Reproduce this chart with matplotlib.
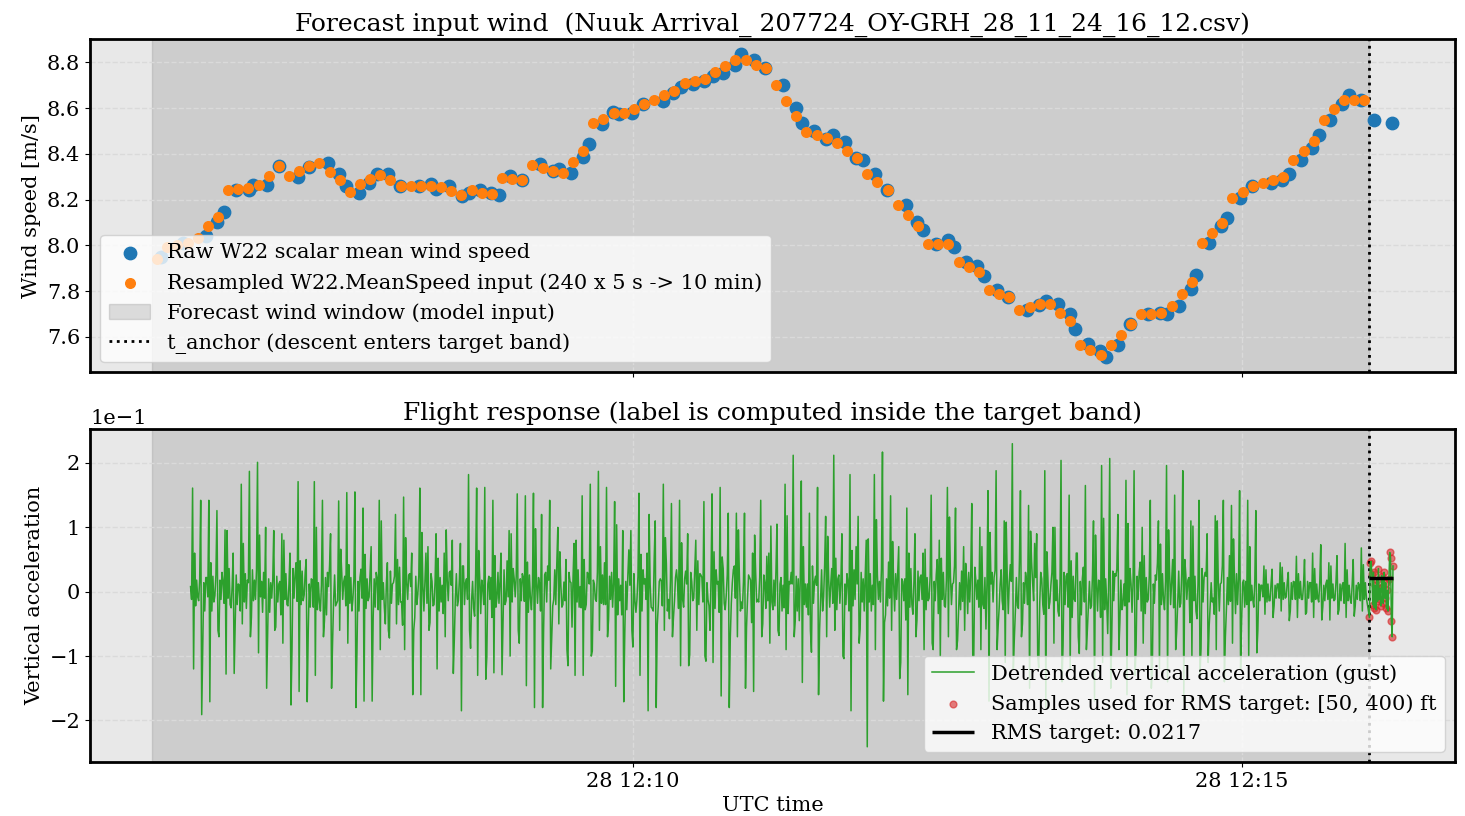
import numpy as np
import pandas as pd
import matplotlib
matplotlib.use("Agg")
import matplotlib.pyplot as plt
import matplotlib.dates as mdates

DAY = "2024-11-28 "
T_ANCHOR = pd.Timestamp(DAY + "12:16:03")
WINDOW_START = T_ANCHOR - pd.Timedelta(minutes=10)
RMS_TARGET = 0.0217

# raw W22 scalar mean wind speed (irregular timestamps)
raw_time = [
    "12:06:07.5", "12:06:18.3", "12:06:29.7", "12:06:35.1", "12:06:38.7", "12:06:44.4", "12:06:50.7", "12:06:53.0", "12:06:59.6", "12:07:05.5",
    "12:07:14.8", "12:07:20.5", "12:07:29.6", "12:07:35.0", "12:07:38.6", "12:07:44.9", "12:07:50.1", "12:07:53.7", "12:07:59.5", "12:08:05.4",
    "12:08:14.7", "12:08:20.5", "12:08:23.0", "12:08:29.5", "12:08:35.8", "12:08:39.4", "12:08:44.6", "12:08:50.0", "12:08:53.8", "12:08:59.4",
    "12:09:05.2", "12:09:14.3", "12:09:20.4", "12:09:23.7", "12:09:29.5", "12:09:35.2", "12:09:38.2", "12:09:44.6", "12:09:50.3", "12:09:53.3",
    "12:09:59.4", "12:10:05.1", "12:10:14.6", "12:10:19.9", "12:10:23.6", "12:10:29.4", "12:10:35.1", "12:10:39.3", "12:10:44.5", "12:10:50.4",
    "12:10:53.2", "12:10:59.8", "12:11:05.2", "12:11:14.0", "12:11:20.3", "12:11:23.3", "12:11:29.3", "12:11:35.1", "12:11:38.4", "12:11:44.4",
    "12:11:49.9", "12:11:53.4", "12:11:59.4", "12:12:05.1", "12:12:14.5", "12:12:20.2", "12:12:23.2", "12:12:29.3", "12:12:35.3", "12:12:38.3",
    "12:12:44.4", "12:12:49.8", "12:12:53.1", "12:12:59.2", "12:13:05.1", "12:13:14.1", "12:13:20.2", "12:13:23.4", "12:13:29.5", "12:13:35.3",
    "12:13:37.9", "12:13:44.5", "12:13:50.1", "12:13:53.4", "12:13:59.1", "12:14:04.8", "12:14:13.8", "12:14:19.8", "12:14:23.4", "12:14:29.1",
    "12:14:34.9", "12:14:37.3", "12:14:43.9", "12:14:49.7", "12:14:53.0", "12:14:59.2", "12:15:05.3", "12:15:14.3", "12:15:20.0", "12:15:23.3",
    "12:15:29.1", "12:15:34.8", "12:15:38.1", "12:15:43.8", "12:15:49.6", "12:15:52.9", "12:15:58.6", "12:16:05.2", "12:16:14.2",
]
raw_speed = [
    7.950, 8.010, 8.041, 8.103, 8.147, 8.240, 8.244, 8.263, 8.263, 8.346,
    8.298, 8.342, 8.359, 8.313, 8.260, 8.230, 8.273, 8.310, 8.310, 8.259,
    8.259, 8.269, 8.247, 8.259, 8.215, 8.230, 8.240, 8.230, 8.218, 8.303,
    8.285, 8.354, 8.327, 8.334, 8.317, 8.385, 8.441, 8.531, 8.583, 8.576,
    8.579, 8.618, 8.633, 8.666, 8.691, 8.705, 8.720, 8.739, 8.753, 8.787,
    8.836, 8.812, 8.775, 8.703, 8.601, 8.533, 8.499, 8.463, 8.481, 8.452,
    8.382, 8.372, 8.310, 8.243, 8.176, 8.103, 8.066, 8.007, 8.022, 7.994,
    7.927, 7.910, 7.866, 7.804, 7.775, 7.717, 7.740, 7.757, 7.743, 7.699,
    7.636, 7.568, 7.536, 7.510, 7.564, 7.655, 7.699, 7.702, 7.699, 7.734,
    7.808, 7.871, 8.009, 8.083, 8.118, 8.205, 8.259, 8.271, 8.286, 8.313,
    8.372, 8.426, 8.484, 8.547, 8.618, 8.659, 8.637, 8.550, 8.533,
]

# resampled model input, one value per 5 s bin of the forecast window
resampled_speed = [
    7.939, 7.993, 8.000, 8.011, 8.033, 8.084, 8.125, 8.240, 8.247, 8.252,
    8.265, 8.304, 8.346, 8.301, 8.324, 8.346, 8.359, 8.321, 8.284, 8.234,
    8.266, 8.292, 8.307, 8.284, 8.259, 8.259, 8.259, 8.259, 8.256, 8.237,
    8.218, 8.240, 8.230, 8.223, 8.295, 8.292, 8.285, 8.351, 8.339, 8.327,
    8.317, 8.365, 8.412, 8.535, 8.554, 8.580, 8.580, 8.598, 8.618, 8.636,
    8.656, 8.676, 8.710, 8.720, 8.729, 8.758, 8.783, 8.812, 8.810, 8.790,
    8.775, 8.700, 8.633, 8.567, 8.496, 8.484, 8.470, 8.448, 8.412, 8.382,
    8.310, 8.276, 8.243, 8.176, 8.131, 8.084, 8.007, 8.007, 8.007, 7.927,
    7.905, 7.885, 7.804, 7.789, 7.775, 7.718, 7.731, 7.743, 7.743, 7.703,
    7.667, 7.565, 7.543, 7.521, 7.564, 7.609, 7.655, 7.699, 7.699, 7.702,
    7.734, 7.786, 7.840, 8.009, 8.054, 8.099, 8.205, 8.234, 8.259, 8.271,
    8.285, 8.300, 8.372, 8.412, 8.455, 8.550, 8.594, 8.637, 8.637, 8.637,
]

# detrended vertical acceleration, 0.5 s samples from 12:06:22, in 1e-3 units
# each 4 s block: core_a, core_b, peak, trough, core_c, core_d, core_e, core_f
acc_peak = [
    161, 142, 142, 126, 96, 60, 167, 187, 201, 100,
    95, 90, 60, 171, 50, 171, 142, 90, 141, 154,
    155, 130, 70, 142, 45, 120, 147, 60, 161, 70,
    90, 60, 80, 75, 182, 161, 162, 142, 60, 95,
    152, 149, 153, 120, 142, 100, 50, 75, 149, 167,
    187, 162, 140, 95, 95, 153, 60, 110, 167, 137,
    142, 90, 80, 140, 152, 162, 122, 122, 122, 60,
    142, 60, 105, 167, 212, 172, 122, 162, 117, 212,
    90, 182, 117, 80, 182, 217, 149, 70, 130, 90,
    60, 150, 80, 162, 130, 70, 137, 100, 157, 188,
    110, 230, 157, 134, 90, 188, 100, 204, 150, 60,
    165, 110, 196, 207, 120, 173, 188, 100, 142, 110,
    196, 150, 188, 110, 142, 90, 118, 142, 134, 157,
    142, 126, 40, 35, 45, 30, 55, 50, 60, 73,
    45, 56, 75, 50, 68,
]
acc_trough = [
    -120, -191, -171, -60, -128, -127, -50, -70, -95, -150,
    -60, -80, -176, -155, -171, -130, -70, -150, -60, -80,
    -180, -170, -170, -90, -60, -50, -90, -160, -160, -60,
    -120, -70, -127, -185, -60, -130, -136, -126, -129, -100,
    -60, -146, -180, -180, -120, -50, -90, -130, -130, -100,
    -60, -70, -147, -171, -60, -130, -185, -180, -60, -70,
    -115, -115, -60, -100, -110, -162, -180, -70, -150, -155,
    -70, -80, -60, -90, -70, -141, -60, -160, -70, -60,
    -100, -185, -80, -241, -90, -170, -60, -135, -160, -70,
    -90, -80, -100, -70, -90, -60, -100, -90, -170, -90,
    -110, -120, -70, -150, -100, -180, -80, -140, -120, -70,
    -90, -170, -110, -150, -90, -160, -130, -80, -150, -120,
    -140, -90, -170, -100, -130, -110, -90, -140, -80, -120,
    -100, -95, -35, -40, -30, -45, -40, -35, -40, -44,
    -44, -35, -40, -38, -30,
]
acc_core_a = [
    8, -14, 22, -6, 15, -25, 10, 18, -12, 30,
    -10, 16, -22, 45, -5, 18, -30, 8, -18, 24,
    -12, 35, -8, 20, -50, 14, -16, 28, -4, 60,
    -20, 10, 32, -14, 20, -38, 6, 22, -18, 48,
    -8, 22, -28, 12, 40, -20, 15, -55, 8, 28,
    -15, 45, -24, 10, 65, -12, 20, -30, 16, -42,
    14, 32, -10, 22, -60, 16, -6, 40, -26, 18,
    -16, 55, -22, 10, 30, -45, 12, 24, -8, 36,
    -18, 14, 70, -30, 10, -16, 46, -12, 20, -35,
    26, -10, 50, -24, 14, 32, -16, 18, -58, 22,
    -14, 42, -26, 18, 75, -20, 10, -38, 28, -15,
    38, -22, 16, -65, 24, 12, -32, 46, -12, 18,
    -28, 50, -18, 22, -42, 30, -10, 14, 56, -20,
    16, -24, 10, -14, 12, -8, 15, -12, 14, -16,
    18, -12, 14, -18, 10,
]
acc_core_b = [
    -12, 20, -8, 26, -18, 9, -30, 14, 34, -10,
    18, -36, 12, -15, 30, -24, 10, 40, -14, -22,
    20, -10, 32, -28, 12, 24, -52, 8, 26, -18,
    15, -34, 10, 20, -12, 28, -20, -40, 16, -8,
    24, -15, 10, -30, 18, 44, -14, 22, -25, 12,
    30, -20, 14, -36, 10, 24, -12, 52, -22, 18,
    -26, 12, 35, -16, 20, -32, 26, -10, 16, -48,
    22, -14, 32, -25, 12, 20, -36, 10, 42, -18,
    16, -30, 12, 25, -20, 36, -10, 28, -44, 15,
    -12, 24, -34, 18, 40, -15, 26, -24, 14, 33,
    -28, 16, 48, -20, 22, -35, 30, 12, -24, 60,
    -16, 26, -40, 20, 35, -22, 15, -30, 25, 44,
    16, -25, 30, -48, 12, 24, -35, 40, -15, 20,
    -20, 16, -8, 12, -10, 15, -12, 10, -16, 14,
    -12, 15, -18, 12, -14,
]
acc_core_c = [
    60, -85, 45, -70, 95, -50, 75, -40, 88, -65,
    -55, 80, -90, 48, -62, 100, -45, -78, 66, 42,
    -95, 58, -40, 110, -72, 50, 84, -60, 92, -48,
    52, 96, -74, 40, -88, 64, -102, 56, -44, 90,
    -80, 46, 98, -58, -70, 62, -115, 80, 50, -92,
    70, -44, 104, -66, -86, 58, 120, -52, 84, -40,
    76, -98, 48, -108, 62, 54, -72, 96, -56, 88,
    -50, 102, -68, 118, -46, 70, -94, -60, 86, 52,
    -104, 64, -58, 82, 112, -48, 78, -110, 60, -44,
    66, -90, 52, 116, -76, 44, -100, 70, 92, -54,
    108, -72, -50, 94, -118, 62, 100, -84, 48, -96,
    -58, 88, 114, -70, -48, 106, -86, 56, -120, 74,
    96, -62, 50, 102, -88, -54, 110, -70, 82, -46,
    70, -60, 34, -22, 38, -30, 28, -32, 36, -24,
    40, -28, 34, -22, 42,
]
acc_core_d = [
    -22, 14, -30, 18, -10, 26, -16, 34, -8, 20,
    24, -12, 36, -20, 12, -28, 22, -14, 30, -18,
    16, -26, 20, -12, 32, -20, 14, -40, 10, 28,
    -30, 18, -10, 40, -14, 22, 12, -24, 34, -16,
    20, -32, 14, 26, -22, 10, 30, -16, -28, 18,
    -18, 24, -36, 16, 28, -30, 12, -22, 44, -14,
    -12, 30, -20, 14, -26, 36, -18, 22, -10, 30,
    26, -16, 12, -34, 24, -20, 40, -14, 18, -28,
    12, -22, 30, -16, 26, -36, 14, 20, -24, 32,
    -28, 16, -12, 24, -30, 18, 38, -20, 12, -26,
    20, -30, 14, 46, -18, 24, -14, 30, -40, 16,
    -22, 14, -28, 32, 18, -16, 24, -34, 12, -20,
    30, -18, 26, -14, 36, -22, 16, -28, 20, 14,
    -14, 12, -16, 10, -12, 14, -10, 16, -12, 10,
    -10, 12, -14, 10, -12,
]
acc_core_e = [
    18, -30, 24, -12, 36, -20, 28, -14, 16, -32,
    -16, 28, -10, 32, -24, 14, -36, 26, -12, 22,
    -30, 20, -24, 14, -18, 38, -12, 24, -30, 16,
    22, -14, 28, -20, 16, -34, 24, -10, -20, 36,
    -14, 26, -18, 30, -12, -24, 16, 34, -20, 12,
    26, -12, 20, -28, -14, 34, -24, 16, -30, 22,
    -24, 16, 28, -12, 34, -18, 14, -30, 26, -16,
    14, -28, 22, 16, -30, 12, -18, 34, -24, 20,
    -20, 34, -16, 28, -12, 20, -30, 16, 36, -14,
    22, -14, 30, -20, 14, -34, 18, -26, 30, 12,
    -34, 22, -18, 14, 30, -26, 18, -20, 24, -36,
    16, -30, 20, -14, -28, 36, -12, 22, -18, 28,
    -20, 32, -12, 24, -16, 14, -30, 22, -34, 18,
    10, -14, 12, -10, 14, -12, 16, -10, 12, -14,
    12, -14, 10, -12, 14,
]
acc_core_f = [
    -8, 22, -16, 30, -20, 12, -26, 18, -32, 14,
    12, -20, 26, -14, 20, -16, 30, -22, 16, -30,
    22, -14, 30, -24, 12, -16, 26, -20, 14, -22,
    -16, 30, -22, 14, -26, 18, -12, 30, -14, 20,
    28, -10, 22, -16, 34, -20, 14, -24, 30, -12,
    -20, 30, -14, 24, -32, 12, -26, 20, -12, 34,
    20, -14, 26, -22, 12, -28, 34, -16, 22, -12,
    -26, 18, -30, 12, 20, -24, 16, -30, 12, 26,
    28, -12, 20, -30, 16, -22, 28, -14, -20, 22,
    -14, 26, -22, 12, -28, 30, -12, 22, -16, 34,
    16, -22, 30, -14, 20, -16, -30, 24, -12, 20,
    -26, 18, -14, 28, -20, 12, 30, -16, 26, -12,
    14, -24, 18, -30, 22, -16, 12, -20, 28, -24,
    -12, 10, -14, 12, -10, 16, -12, 14, -10, 12,
    -14, 10, -12, 14, -10,
]
# samples inside the target band (0.4 s spacing from t_anchor), 1e-3 units
band_acc = [
    -40, 44, 47, 28, -20, 30, -25, 10, -28, 18,
    -15, 36, -12, 5, -22, 25, 8, -18, 30, -10,
    14, -26, 2, -30, 20, 61, 52, -45, -70, 40,
]

raw_t = pd.to_datetime([DAY + s for s in raw_time])
res_t = WINDOW_START + pd.to_timedelta(2.5 + 5 * np.arange(len(resampled_speed)), unit="s")

blocks = np.column_stack([acc_core_a, acc_core_b, acc_peak, acc_trough,
                          acc_core_c, acc_core_d, acc_core_e, acc_core_f])
acc = blocks.ravel() * 1e-3
acc_t = pd.Timestamp(DAY + "12:06:22") + pd.to_timedelta(0.5 * np.arange(len(acc)), unit="s")
band = np.array(band_acc) * 1e-3
band_t = T_ANCHOR + pd.to_timedelta(0.4 * np.arange(len(band)), unit="s")
all_t = acc_t.append(band_t)
all_acc = np.concatenate([acc, band])

plt.rcParams["font.family"] = "DejaVu Serif"

fig, (ax1, ax2) = plt.subplots(2, 1, figsize=(14.65, 8.16), dpi=100, sharex=True)
fig.subplots_adjust(left=0.0614, right=0.9932, top=0.9522, bottom=0.0662, hspace=0.168)

for ax in (ax1, ax2):
    ax.set_facecolor("#e8e8e8")
    ax.grid(True, linestyle="--", color="#dadada", linewidth=1.0)
    for sp in ax.spines.values():
        sp.set_linewidth(2.0)
    ax.tick_params(labelsize=15)

# top: wind input
ax1.scatter(raw_t, raw_speed, s=80, color="tab:blue", zorder=3,
            label="Raw W22 scalar mean wind speed")
ax1.scatter(res_t, resampled_speed, s=48, color="tab:orange", zorder=4,
            label="Resampled W22.MeanSpeed input (240 x 5 s -> 10 min)")
ax1.axvspan(WINDOW_START, T_ANCHOR, color="gray", alpha=0.25, zorder=0,
            label="Forecast wind window (model input)")
ax1.axvline(T_ANCHOR, color="black", linestyle=":", linewidth=2,
            label="t_anchor (descent enters target band)")
ax1.set_ylabel("Wind speed [m/s]", fontsize=15)
ax1.set_title("Forecast input wind  (Nuuk Arrival_ 207724_OY-GRH_28_11_24_16_12.csv)", fontsize=18)
ax1.legend(loc="lower left", fontsize=15)

# bottom: flight response
ax2.axvspan(WINDOW_START, T_ANCHOR, color="gray", alpha=0.25, zorder=0)
ax2.axvline(T_ANCHOR, color="black", linestyle=":", linewidth=2)
sc = ax2.scatter(band_t, band, s=24, color="tab:red", alpha=0.6, zorder=1.8,
                 label="Samples used for RMS target: [50, 400) ft")
ln, = ax2.plot(all_t, all_acc, color="tab:green", linewidth=1.1, zorder=2,
               label="Detrended vertical acceleration (gust)")
rms = ax2.hlines(RMS_TARGET, band_t[0], band_t[-1], color="black", linewidth=2.5, zorder=4,
                 label=f"RMS target: {RMS_TARGET:.4f}")
ax2.set_ylabel("Vertical acceleration", fontsize=15)
ax2.set_xlabel("UTC time", fontsize=15)
ax2.set_title("Flight response (label is computed inside the target band)", fontsize=18)
ax2.ticklabel_format(axis="y", style="sci", scilimits=(0, 0))
ax2.yaxis.get_offset_text().set_fontsize(15)
ax2.legend(handles=[ln, sc, rms], loc="lower right", fontsize=15)

ax2.xaxis.set_major_locator(mdates.MinuteLocator(byminute=range(0, 60, 5)))
ax2.xaxis.set_major_formatter(mdates.DateFormatter("%d %H:%M"))

fig.savefig("out.png", dpi=100)
